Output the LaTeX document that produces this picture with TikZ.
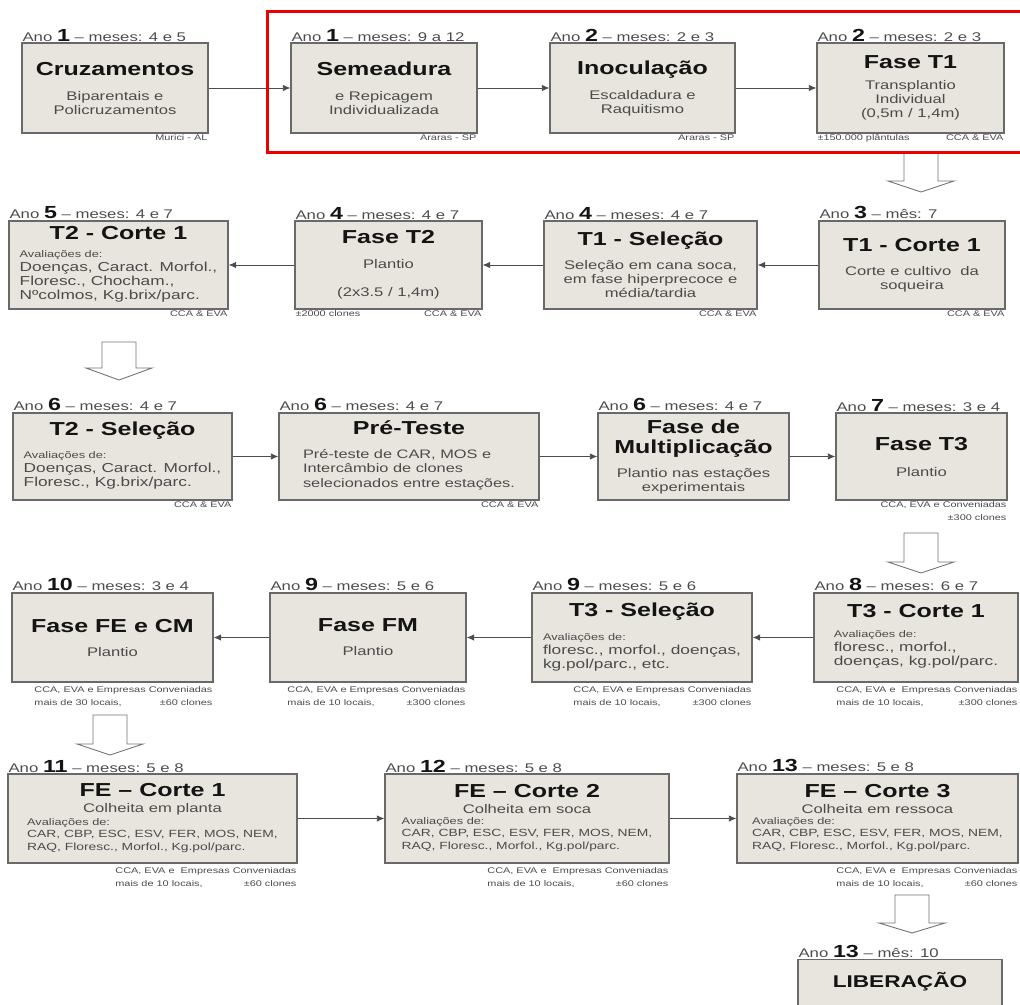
\documentclass[tikz,border=0pt]{standalone}
\usepackage{fontspec}
\setmainfont{Liberation Sans}[FakeStretch=1.33]
\usetikzlibrary{positioning,arrows.meta}

\definecolor{boxfill}{RGB}{231,229,221}
\definecolor{boxline}{RGB}{105,105,105}
\definecolor{txtgray}{RGB}{75,75,75}
\definecolor{ttlblack}{RGB}{20,20,20}
\definecolor{redframe}{RGB}{236,0,0}

\newcommand\ttl{\fontsize{18.8}{20}\selectfont\bfseries\color{ttlblack}}
\newcommand\dsc{\fontsize{12.5}{14}\selectfont}
\newcommand\avl{\fontsize{9.6}{11}\selectfont}
\newcommand\yrf{\fontsize{12.6}{14}\selectfont}
\newcommand\ftf{\fontsize{8.2}{12.5}\selectfont}
\newcommand\yn[1]{{\fontsize{17.5}{17.5}\selectfont\bfseries\color{ttlblack}#1}}
% lists of evaluations
\newcommand\evl[1]{{\fontsize{13}{14}\selectfont\begin{tabular}{@{}l@{}}#1\end{tabular}}}
\newcommand\evs[1]{{\fontsize{10.4}{12.5}\selectfont\begin{tabular}{@{}l@{}}#1\end{tabular}}}
\newcommand\ftwo[3]{\begin{tabular}{@{}l@{}r@{}}\multicolumn{2}{@{}l@{}}{#1}\\#2&#3\end{tabular}}

\begin{document}
\begin{tikzpicture}[x=1pt, y=-1pt,
    every node/.style={align=center, text=txtgray},
    stage/.style={draw=boxline, line width=1.3pt, fill=boxfill, inner sep=2pt, font=\dsc},
    yr/.style={above right=0pt and 0pt of #1, inner xsep=1pt, inner ysep=1pt, font=\yrf, text=black!70},
    ft/.style={below left=0pt and 0pt of #1, inner sep=1pt, font=\ftf, align=right},
    ftl/.style={below right=0pt and 0pt of #1, inner sep=1pt, font=\ftf},
    link/.style={-{Latex[length=7.5pt,width=6.5pt]}, draw=black!70, line width=0.8pt},
    blk/.style={draw=black!55, fill=white, line width=0.9pt}]
    \useasboundingbox (0,0) rectangle (1020,1004);

    % hollow arrows between the rows
    \foreach \cx/\ty/\by/\tp in {921/153/181/192, 119/342/368/380, 921/533/562/573, 110/715/744/755, 912/895/923/933}
        \draw[blk] (\cx-17,\ty) -- (\cx+17,\ty) -- (\cx+17,\by) -- (\cx+33,\by) -- (\cx,\tp) -- (\cx-33,\by) -- (\cx-17,\by) -- cycle;

    % row 1
    \node[stage, minimum width=186, minimum height=90] (c1) at (115,88) {{\ttl Cruzamentos}\\[11pt]Biparentais e\\Policruzamentos};
    \node[stage, minimum width=186, minimum height=90] (c2) at (384,88) {{\ttl Semeadura}\\[11pt]e Repicagem\\Individualizada};
    \node[stage, minimum width=185, minimum height=90] (c3) at (642.5,88) {{\ttl Inoculação}\\[11pt]Escaldadura e\\Raquitismo};
    \node[stage, minimum width=187, minimum height=90] (c4) at (910.5,88) {{\ttl Fase T1}\\[7pt]Transplantio\\Individual\\(0,5m / 1,4m)};
    \node[yr=c1.north west] (a1) {Ano \yn{1} – meses: 4 e 5};
    \node[yr=c2.north west] (a2) {Ano \yn{1} – meses: 9 a 12};
    \node[yr=c3.north west] (a3) {Ano \yn{2} – meses: 2 e 3};
    \node[yr=c4.north west] (a4) {Ano \yn{2} – meses: 2 e 3};
    \node[ft=c1.south east] (f1) {Murici - AL};
    \node[ft=c2.south east] (f2) {Araras - SP};
    \node[ft=c3.south east] (f3) {Araras - SP};
    \node[ftl=c4.south west] (f4l) {±150.000 plântulas};
    \node[ft=c4.south east] (f4) {CCA \& EVA};

    % row 2
    \node[stage, minimum width=186, minimum height=88] (c5) at (912,265) {{\ttl T1 - Corte 1}\\[10pt]Corte e cultivo\ \ da\\soqueira};
    \node[stage, minimum width=213, minimum height=88] (c6) at (650.5,265) {{\ttl T1 - Seleção}\\[10pt]Seleção em cana soca,\\em fase hiperprecoce e\\média/tardia};
    \node[stage, minimum width=187, minimum height=88] (c7) at (388.5,265) {{\ttl Fase T2}\\[11pt]Plantio\\[14pt](2x3.5 / 1,4m)};
    \node[stage, minimum width=219, minimum height=88] (c8) at (118.5,265) {{\ttl T2 - Corte 1}\\[7pt]\evl{{\avl Avaliações de:}\\Doenças, Caract. Morfol.,\\Floresc., Chocham.,\\Nºcolmos, Kg.brix/parc.}};
    \node[yr=c5.north west] (a5) {Ano \yn{3} – mês: 7};
    \node[yr=c6.north west] (a6) {Ano \yn{4} – meses: 4 e 7};
    \node[yr=c7.north west] (a7) {Ano \yn{4} – meses: 4 e 7};
    \node[yr=c8.north west] (a8) {Ano \yn{5} – meses: 4 e 7};
    \node[ft=c5.south east] (f5) {CCA \& EVA};
    \node[ft=c6.south east] (f6) {CCA \& EVA};
    \node[ftl=c7.south west] (f7l) {±2000 clones};
    \node[ft=c7.south east] (f7) {CCA \& EVA};
    \node[ft=c8.south east] (f8) {CCA \& EVA};

    % row 3
    \node[stage, minimum width=219, minimum height=87] (c9) at (122.5,456.5) {{\ttl T2 - Seleção}\\[8pt]\evl{{\avl Avaliações de:}\\Doenças, Caract. Morfol.,\\Floresc., Kg.brix/parc.}};
    \node[stage, minimum width=260, minimum height=87] (c10) at (409,456.5) {{\ttl Pré-Teste}\\[12pt]{\fontsize{12.3}{14.8}\selectfont\begin{tabular}{@{}l@{}}Pré-teste de CAR, MOS e\\Intercâmbio de clones\\selecionados entre estações.\end{tabular}}};
    \node[stage, minimum width=191, minimum height=87] (c11) at (693.5,456.5) {{\ttl Fase de}\\[6pt]{\ttl Multiplicação}\\[10pt]Plantio nas estações\\experimentais};
    \node[stage, minimum width=171, minimum height=87] (c12) at (921.5,456.5) {{\ttl Fase T3}\\[12pt]Plantio};
    \node[yr=c9.north west] (a9) {Ano \yn{6} – meses: 4 e 7};
    \node[yr=c10.north west] (a10) {Ano \yn{6} – meses: 4 e 7};
    \node[yr=c11.north west] (a11) {Ano \yn{6} – meses: 4 e 7};
    \node[yr=c12.north west] (a12) {Ano \yn{7} – meses: 3 e 4};
    \node[ft=c9.south east] (f9) {CCA \& EVA};
    \node[ft=c10.south east] (f10) {CCA \& EVA};
    \node[ft=c12.south east] (f12) {CCA, EVA e Conveniadas\\±300 clones};

    % row 4
    \node[stage, minimum width=204, minimum height=89] (c13) at (916,637.5) {{\ttl T3 - Corte 1}\\[9pt]\evl{{\avl Avaliações de:}\\floresc., morfol.,\\doenças, kg.pol/parc.}};
    \node[stage, minimum width=220, minimum height=89] (c14) at (642,637.5) {{\ttl T3 - Seleção}\\[9pt]\evl{{\avl Avaliações de:}\\floresc., morfol., doenças,\\kg.pol/parc., etc.}};
    \node[stage, minimum width=196, minimum height=89] (c15) at (368,637.5) {{\ttl Fase FM}\\[10pt]Plantio};
    \node[stage, minimum width=201, minimum height=89] (c16) at (112.5,637.5) {{\ttl Fase FE e CM}\\[10pt]Plantio};
    \node[yr=c13.north west] (a13) {Ano \yn{8} – meses: 6 e 7};
    \node[yr=c14.north west] (a14) {Ano \yn{9} – meses: 5 e 6};
    \node[yr=c15.north west] (a15) {Ano \yn{9} – meses: 5 e 6};
    \node[yr=c16.north west] (a16) {Ano \yn{10} – meses: 3 e 4};
    \node[ft=c13.south east] (f13) {\ftwo{CCA, EVA e\ \ Empresas Conveniadas}{mais de 10 locais,}{±300 clones}};
    \node[ft=c14.south east] (f14) {\ftwo{CCA, EVA e Empresas Conveniadas}{mais de 10 locais,}{±300 clones}};
    \node[ft=c15.south east] (f15) {\ftwo{CCA, EVA e Empresas Conveniadas}{mais de 10 locais,}{±300 clones}};
    \node[ft=c16.south east] (f16) {\ftwo{CCA, EVA e Empresas Conveniadas}{mais de 30 locais,}{±60 clones}};

    % row 5
    \node[stage, minimum width=289, minimum height=89] (c17) at (152.5,818.5) {{\ttl FE – Corte 1}\\[2pt]Colheita em planta\\[1pt]\evs{{\avl Avaliações de:}\\CAR, CBP, ESC, ESV, FER, MOS, NEM,\\RAQ, Floresc., Morfol., Kg.pol/parc.}};
    \node[stage, minimum width=284, minimum height=89] (c18) at (527,818.5) {{\ttl FE – Corte 2}\\[2pt]Colheita em soca\\[1pt]\evs{{\avl Avaliações de:}\\CAR, CBP, ESC, ESV, FER, MOS, NEM,\\RAQ, Floresc., Morfol., Kg.pol/parc.}};
    \node[stage, minimum width=281, minimum height=89] (c19) at (877.5,818.5) {{\ttl FE – Corte 3}\\[2pt]Colheita em ressoca\\[1pt]\evs{{\avl Avaliações de:}\\CAR, CBP, ESC, ESV, FER, MOS, NEM,\\RAQ, Floresc., Morfol., Kg.pol/parc.}};
    \node[yr=c17.north west] (a17) {Ano \yn{11} – meses: 5 e 8};
    \node[yr=c18.north west] (a18) {Ano \yn{12} – meses: 5 e 8};
    \node[yr=c19.north west] (a19) {Ano \yn{13} – meses: 5 e 8};
    \node[ft=c17.south east] (f17) {\ftwo{CCA, EVA e\ \ Empresas Conveniadas}{mais de 10 locais,}{±60 clones}};
    \node[ft=c18.south east] (f18) {\ftwo{CCA, EVA e\ \ Empresas Conveniadas}{mais de 10 locais,}{±60 clones}};
    \node[ft=c19.south east] (f19) {\ftwo{CCA, EVA e\ \ Empresas Conveniadas}{mais de 10 locais,}{±60 clones}};

    % release
    \node[stage, anchor=north, minimum width=204, inner ysep=0pt, text height=28, text depth=60] (c20) at (900,959) {\fontsize{17}{17}\selectfont\bfseries\color{ttlblack}LIBERAÇÃO};
    \node[yr=c20.north west] (a20) {Ano \yn{13} – mês: 10};

    % connectors
    \draw[link] (c1) -- (c2);
    \draw[link] (c2) -- (c3);
    \draw[link] (c3) -- (c4);
    \draw[link] (c5) -- (c6);
    \draw[link] (c6) -- (c7);
    \draw[link] (c7) -- (c8);
    \draw[link] (c9) -- (c10);
    \draw[link] (c10) -- (c11);
    \draw[link] (c11) -- (c12);
    \draw[link] (c13) -- (c14);
    \draw[link] (c14) -- (c15);
    \draw[link] (c15) -- (c16);
    \draw[link] (c17) -- (c18);
    \draw[link] (c18) -- (c19);

    \draw[redframe, line width=3pt] (267,11) rectangle (1026,152);
\end{tikzpicture}
\end{document}
